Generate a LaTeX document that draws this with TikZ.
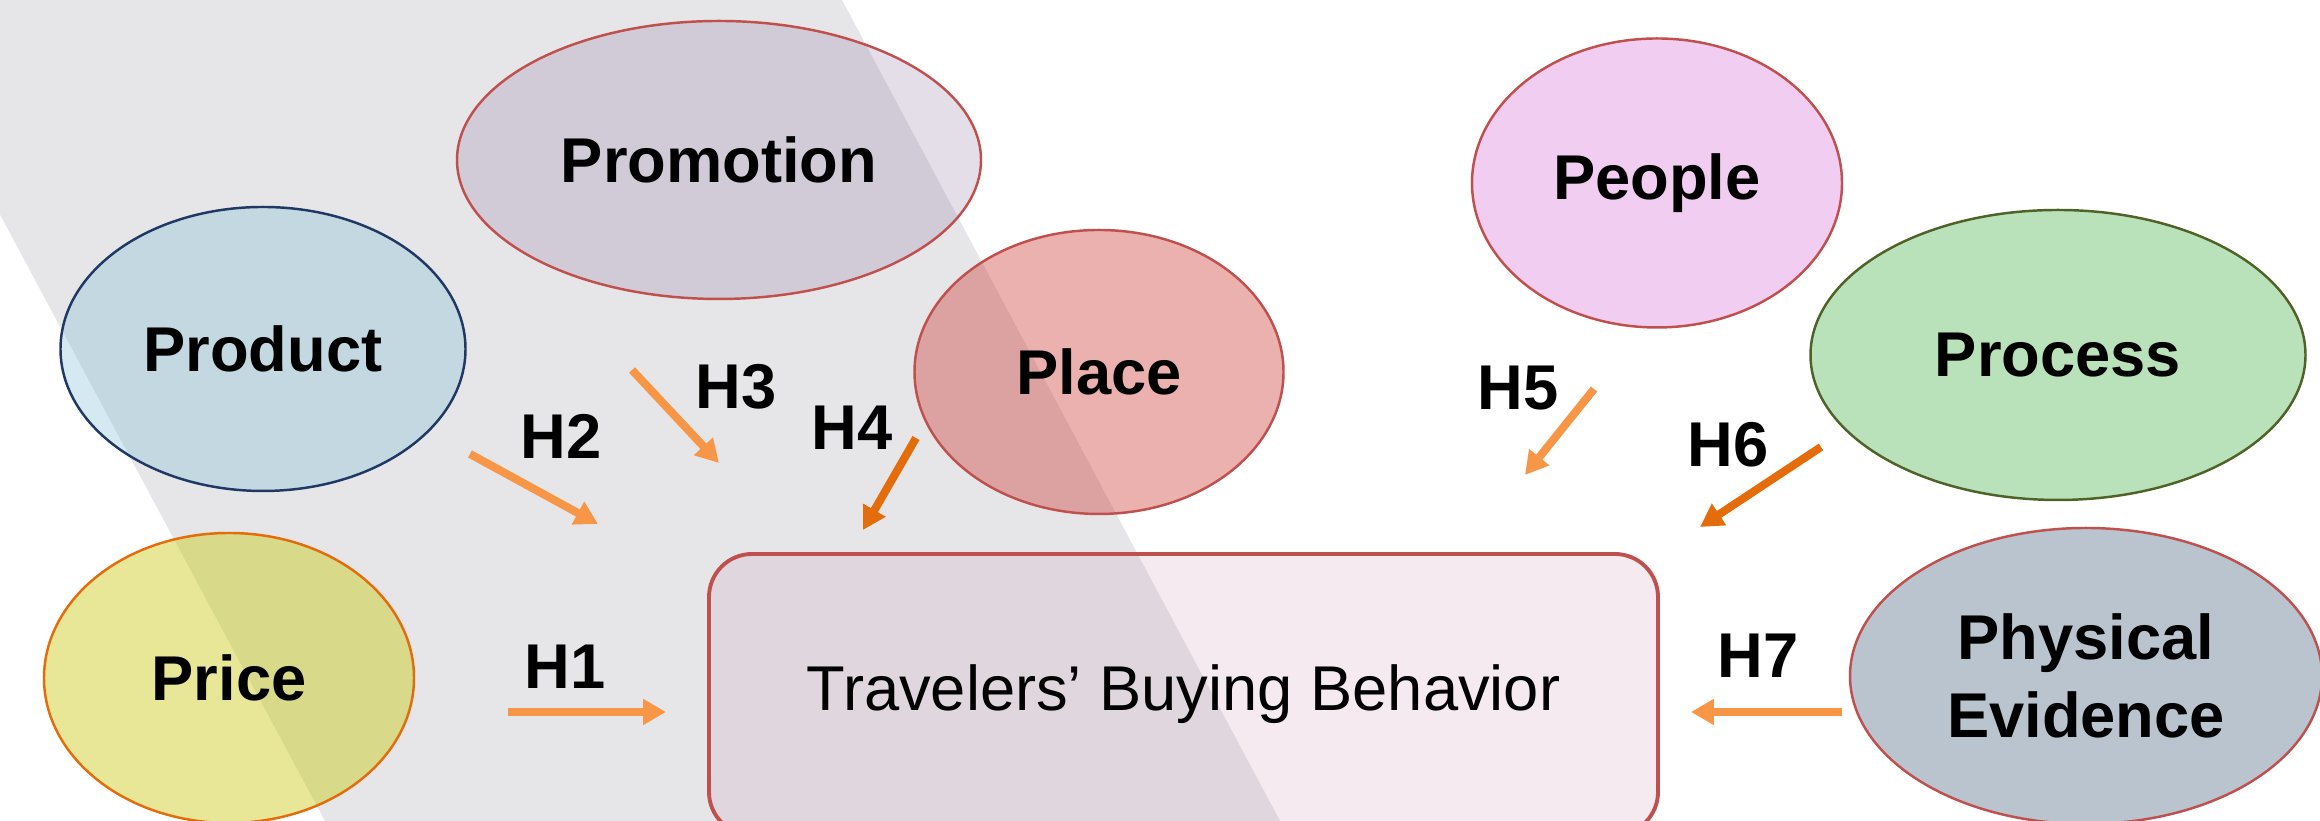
\documentclass[tikz,border=0pt]{standalone}
\usepackage{fontspec}
\setmainfont{Liberation Sans}
\usetikzlibrary{arrows.meta,shapes.geometric}
\definecolor{band}{HTML}{E6E6E8}
\definecolor{hlight}{HTML}{F79646}
\definecolor{hdark}{HTML}{E46C0A}
\definecolor{edgered}{HTML}{C0504D}
\definecolor{edgenavy}{HTML}{1F3864}
\definecolor{edgeorange}{HTML}{E46C0A}
\definecolor{edgegreen}{HTML}{4F6228}
\definecolor{promofill}{RGB}{146,121,167}
\definecolor{prodfill}{RGB}{118,185,212}
\definecolor{pricefill}{RGB}{202,202,20}
\definecolor{placefill}{RGB}{205,60,57}
\definecolor{boxfill}{RGB}{200,150,180}
\definecolor{peoplefill}{HTML}{F0CDF1}
\definecolor{processfill}{HTML}{B9E2BA}
\definecolor{evidfill}{HTML}{B9C4CF}

\begin{document}
\begin{tikzpicture}[
  factor/.style={ellipse,draw,line width=0.7pt,inner sep=0pt,text opacity=1,
    align=center,font=\fontsize{18}{22}\selectfont\bfseries},
  hyp/.style={line width=2.3pt,-{Triangle[length=6.5pt,width=7pt]}},
  hlabel/.style={font=\fontsize{18}{22}\selectfont\bfseries}
]
  \clip (0,0) rectangle (23.2,8.21);
  \fill[white] (0,0) rectangle (23.2,8.21);

  % grey slanted band behind the left half
  \fill[band] (-1.15,8.21) -- (8.42,8.21) -- (12.80,0) -- (3.25,0) -- cycle;

  % the 7 P's
  \node[factor,edgered,fill=promofill,fill opacity=0.24,text=black,
        minimum width=5.24cm,minimum height=2.78cm] (promotion) at (7.19,6.61) {Promotion};
  \node[factor,edgenavy,fill=prodfill,fill opacity=0.3,text=black,
        minimum width=4.05cm,minimum height=2.84cm] (product) at (2.63,4.72) {Product};
  \node[factor,edgeorange,fill=pricefill,fill opacity=0.44,text=black,
        minimum width=3.70cm,minimum height=2.90cm] (price) at (2.29,1.43) {Price};
  \node[factor,edgered,fill=placefill,fill opacity=0.4,text=black,
        minimum width=3.69cm,minimum height=2.84cm] (place) at (10.99,4.49) {Place};
  \node[factor,edgered,fill=peoplefill,text=black,
        minimum width=3.70cm,minimum height=2.89cm] (people) at (16.57,6.38) {People};
  \node[factor,edgegreen,fill=processfill,text=black,
        minimum width=4.95cm,minimum height=2.90cm] (process) at (20.58,4.66) {Process};
  \node[factor,edgered,fill=evidfill,text=black,
        minimum width=4.72cm,minimum height=2.96cm] (evidence) at (20.86,1.45) {Physical\\Evidence};

  % dependent variable
  \node[draw=edgered,line width=1.1pt,rounded corners=0.43cm,fill=boxfill,fill opacity=0.2,
        text opacity=1,minimum width=9.49cm,minimum height=2.81cm,
        font=\fontsize{18}{22}\selectfont] (behavior) at (11.835,1.265) {\raisebox{3pt}{Travelers’ Buying Behavior}};

  % arrow ends
  \coordinate (h1a) at (5.08,1.09);  \coordinate (h1b) at (6.66,1.09);
  \coordinate (h2a) at (4.70,3.67);  \coordinate (h2b) at (5.98,2.97);
  \coordinate (h3a) at (6.32,4.51);  \coordinate (h3b) at (7.19,3.58);
  \coordinate (h4a) at (9.16,3.83);  \coordinate (h4b) at (8.63,2.91);
  \coordinate (h5a) at (15.94,4.32); \coordinate (h5b) at (15.25,3.46);
  \coordinate (h6a) at (18.21,3.74); \coordinate (h6b) at (17.00,2.94);
  \coordinate (h7a) at (18.42,1.09); \coordinate (h7b) at (16.91,1.09);

  \draw[hyp,hlight] (h1a) -- (h1b);
  \draw[hyp,hlight] (h2a) -- (h2b);
  \draw[hyp,hlight] (h3a) -- (h3b);
  \draw[hyp,hdark]  (h4a) -- (h4b);
  \draw[hyp,hlight] (h5a) -- (h5b);
  \draw[hyp,hdark]  (h6a) -- (h6b);
  \draw[hyp,hlight] (h7a) -- (h7b);

  \node[hlabel] (l1) at (5.65,1.54) {H1};
  \node[hlabel] (l2) at (5.61,3.85) {H2};
  \node[hlabel] (l3) at (7.36,4.34) {H3};
  \node[hlabel] (l4) at (8.52,3.93) {H4};
  \node[hlabel] (l5) at (15.18,4.33) {H5};
  \node[hlabel] (l6) at (17.28,3.76) {H6};
  \node[hlabel] (l7) at (17.58,1.65) {H7};
\end{tikzpicture}
\end{document}
